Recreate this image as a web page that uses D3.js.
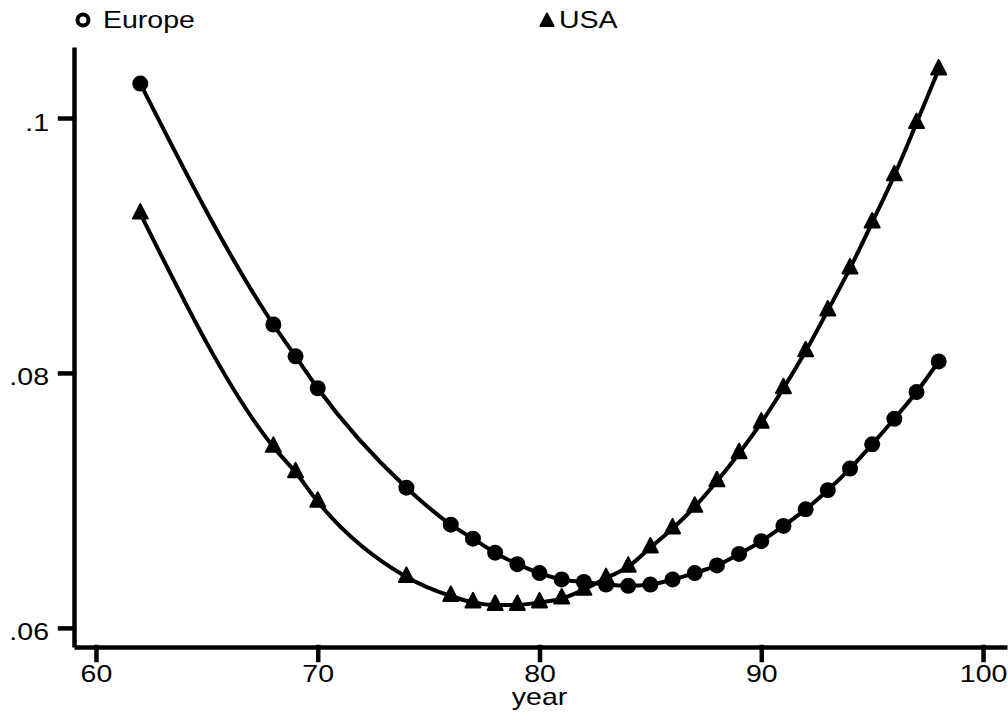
<!DOCTYPE html>
<html>
<head>
<meta charset="utf-8">
<script src="https://cdn.jsdelivr.net/npm/d3@7"></script>
<style>
  html, body { margin: 0; padding: 0; background: #fff; }
  svg text { font-family: "Liberation Sans", Arial, sans-serif; fill: #000; }
</style>
</head>
<body>
<div id="graph"></div>
<script>
const years = [62, 68, 69, 70, 74, 76, 77, 78, 79, 80, 81, 82, 83, 84,
  85, 86, 87, 88, 89, 90, 91, 92, 93, 94, 95, 96, 97, 98];
const europe = [0.1027, 0.0838, 0.0813, 0.0788, 0.0710, 0.0681, 0.0670, 0.0659, 0.0650, 0.0643,
  0.0638, 0.0636, 0.0634, 0.0633, 0.0634, 0.0638, 0.0643, 0.0649, 0.0658, 0.0668,
  0.0680, 0.0693, 0.0708, 0.0725, 0.0744, 0.0764, 0.0785, 0.0809];
const usa = [0.0925, 0.0742, 0.0722, 0.0699, 0.0640, 0.0625, 0.0620, 0.0618, 0.0618, 0.0620,
  0.0623, 0.0630, 0.0639, 0.0648, 0.0663, 0.0678, 0.0695, 0.0715, 0.0737, 0.0761,
  0.0788, 0.0817, 0.0849, 0.0882, 0.0918, 0.0955, 0.0996, 0.1038];
const seriesNames = ['Europe', 'USA'];
const xTicks = [60, 70, 80, 90, 100];
const yTicks = [0.06, 0.08, 0.1];
const yTickLabels = ['.06', '.08', '.1'];
const xTitle = 'year';

const canvasWidth = 1008;
const canvasHeight = 713;
const fontSize = 23;
const stretch = 1.24; // glyphs in the original are drawn wide

const svg = d3.select('#graph')
  .append('svg')
    .attr('width', canvasWidth)
    .attr('height', canvasHeight);

// scales cover the full axis lines
const scaleX = d3.scaleLinear().domain([59.01, 101.08]).range([74, 1007]);
const scaleY = d3.scaleLinear().domain([0.0585, 0.10557]).range([647, 47]);

// x axis
const axisX = d3.axisBottom(scaleX)
  .tickValues(xTicks)
  .tickFormat(d3.format('d'))
  .tickSizeInner(13)
  .tickSizeOuter(0);
const gx = svg.append('g')
  .attr('transform', `translate(0, ${scaleY.range()[0]})`)
  .call(axisX);

// y axis
const axisY = d3.axisLeft(scaleY)
  .tickValues(yTicks)
  .tickFormat((d, i) => yTickLabels[i])
  .tickSizeInner(14)
  .tickSizeOuter(0);
const gy = svg.append('g')
  .attr('transform', `translate(${scaleX.range()[0]}, 0)`)
  .call(axisY);

[gx, gy].forEach(g => {
  g.selectAll('.domain, .tick line')
    .attr('stroke', '#000')
    .attr('stroke-width', 4.5)
    .attr('stroke-linecap', 'square');
  g.select('.domain').attr('stroke-linecap', 'butt');
  g.selectAll('.tick text')
    .attr('font-size', fontSize)
    .attr('font-family', '"Liberation Sans", Arial, sans-serif');
});

gx.selectAll('.tick text')
  .attr('y', 0)
  .attr('dy', 0)
  .attr('transform', `translate(0, 35) scale(${stretch}, 1)`);
gy.selectAll('.tick text')
  .attr('x', 0)
  .attr('dy', 0)
  .attr('text-anchor', 'end')
  .attr('transform', `translate(-25, 12) scale(${stretch}, 1)`);

// axis title
svg.append('text')
  .attr('text-anchor', 'middle')
  .attr('font-size', fontSize)
  .attr('transform', `translate(${scaleX(80)}, 705) scale(${stretch}, 1)`)
  .text(xTitle);

// lines
const line = d3.line()
  .x(d => scaleX(d[0]))
  .y(d => scaleY(d[1]))
  .curve(d3.curveMonotoneX);

const eu = years.map((yr, i) => [yr, europe[i]]);
const us = years.map((yr, i) => [yr, usa[i]]);

[eu, us].forEach(pts => {
  svg.append('path')
    .datum(pts)
    .attr('fill', 'none')
    .attr('stroke', '#000')
    .attr('stroke-width', 4)
    .attr('stroke-linejoin', 'round')
    .attr('d', line);
});

// markers
const triangle = 'M0,-9.5 L7.5,5 L-7.5,5 Z';

svg.append('g')
  .selectAll('circle')
  .data(eu)
  .enter()
  .append('circle')
    .attr('cx', d => scaleX(d[0]))
    .attr('cy', d => scaleY(d[1]))
    .attr('r', 8)
    .attr('fill', '#000');

svg.append('g')
  .selectAll('path')
  .data(us)
  .enter()
  .append('path')
    .attr('d', triangle)
    .attr('transform', d => `translate(${scaleX(d[0])}, ${scaleY(d[1])})`)
    .attr('fill', '#000')
    .attr('stroke', '#000')
    .attr('stroke-width', 2)
    .attr('stroke-linejoin', 'round');

// legend
const legend = svg.append('g');
legend.append('circle')
  .attr('cx', 83)
  .attr('cy', 20)
  .attr('r', 5.5)
  .attr('fill', '#fff')
  .attr('stroke', '#000')
  .attr('stroke-width', 4);
legend.append('text')
  .attr('font-size', fontSize)
  .attr('transform', `translate(103, 28) scale(${stretch}, 1)`)
  .text(seriesNames[0]);
legend.append('path')
  .attr('d', 'M0,-7.5 L6.5,5 L-6.5,5 Z')
  .attr('transform', 'translate(547, 21)')
  .attr('fill', '#000')
  .attr('stroke', '#000')
  .attr('stroke-width', 2)
  .attr('stroke-linejoin', 'round');
legend.append('text')
  .attr('font-size', fontSize)
  .attr('transform', `translate(559, 28) scale(${stretch}, 1)`)
  .text(seriesNames[1]);
</script>
</body>
</html>
